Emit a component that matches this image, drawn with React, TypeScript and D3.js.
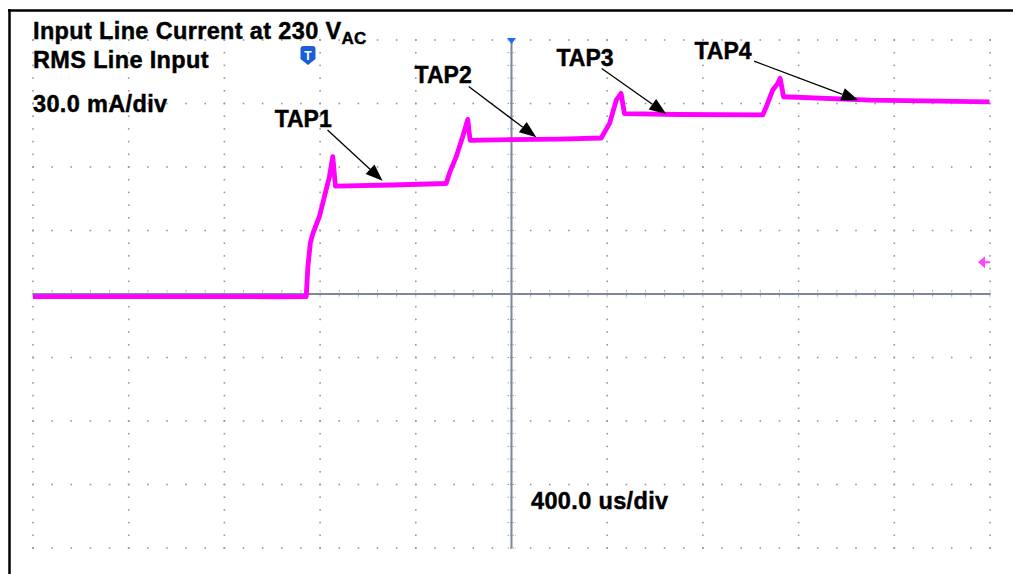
import React from "react";
import * as d3 from "d3";

// Scope settings
const timePerDivUs = 400;
const currentPerDivMa = 30;
const xDivs = 10;
const yDivs = 8;
const minorPerDiv = 5;

// Trace samples (time in µs relative to trigger, current in mA)
const timeUs = [
  -2000, -1500, -1000, -858, -851, -841, -830, -803, -782, -761, -747, -736,
  -500, -273, -259, -231, -204, -183, -173, 0, 200, 375, 410, 438, 458, 472,
  700, 1050, 1065, 1092, 1113, 1123, 1137, 1500, 1998,
];
const currentMa = [
  -1.2, -1.2, -1.3, -1.2, 12.9, 24.0, 28.7, 36.5, 46.0, 55.4, 64.9, 51.0,
  51.5, 52.2, 57.2, 64.9, 74.3, 82.5, 72.6, 72.9, 73.2, 73.7, 80.6, 91.6, 94.8, 85.2,
  84.8, 84.6, 88.5, 96.4, 99.5, 101.9, 93.2, 91.6, 90.8,
];

// Annotations: label position and arrow target in data units
const tapLabels = ["TAP1", "TAP2", "TAP3", "TAP4"];
const tapLabelT = [-990, -405, 188, 765];
const tapLabelMa = [79, 99.5, 107.5, 110.8];
const tapTailT = [-769, -179, 377, 1014];
const tapTailMa = [77.5, 98, 106.5, 110];
const tapTipT = [-539, 104, 647, 1450];
const tapTipMa = [53.5, 74, 85, 91.5];

const titleMain = "Input Line Current at 230 V";
const titleSub = "AC";
const subtitle = "RMS Line Input";
const vScaleLabel = "30.0 mA/div";
const hScaleLabel = "400.0 us/div";
const refLevelMa = 15;

export default function App() {
  const left = 33;
  const right = 990;
  const top = 40;
  const bottom = 548;
  const tMax = (xDivs / 2) * timePerDivUs;
  const iMax = (yDivs / 2) * currentPerDivMa;
  const x = d3.scaleLinear().domain([-tMax, tMax]).range([left, right]);
  const y = d3.scaleLinear().domain([-iMax, iMax]).range([bottom, top]);

  const majorX = d3.range(-tMax, tMax + 1, timePerDivUs);
  const majorY = d3.range(-iMax, iMax + 0.001, currentPerDivMa);
  const minorX = d3.range(-tMax, tMax + 1, timePerDivUs / minorPerDiv);
  const minorY = d3.range(-iMax, iMax + 0.001, currentPerDivMa / minorPerDiv);

  const dots: { cx: number; cy: number }[] = [];
  majorX.forEach((t) => {
    if (Math.abs(t) < 1e-6) return;
    minorY.forEach((v) => dots.push({ cx: x(t), cy: y(v) }));
  });
  majorY.forEach((v) => {
    if (Math.abs(v) < 1e-6) return;
    minorX.forEach((t) => dots.push({ cx: x(t), cy: y(v) }));
  });

  const pts = timeUs.map((t, i) => [t, currentMa[i]] as [number, number]);
  const line = d3
    .line<[number, number]>()
    .x((d) => x(d[0]))
    .y((d) => y(d[1]));

  const gridColor = "#8f98aa";
  const axisColor = "#7d889c";
  const trace = "#ff00ff";
  const font = "'Liberation Sans', Arial, Helvetica, sans-serif";

  const cx0 = x(0);
  const cy0 = y(0);

  return (
    <svg
      width={1013}
      height={574}
      style={{ position: "absolute", left: 0, top: 0, background: "#fff" }}
      fontFamily={font}
    >
      <rect x={0} y={0} width={1013} height={574} fill="#fff" />
      {/* frame */}
      <line x1={8} x2={1013} y1={10.5} y2={10.5} stroke="#000" strokeWidth={2.5} />
      <line x1={9.5} x2={9.5} y1={9} y2={574} stroke="#000" strokeWidth={2.5} />

      {/* dotted graticule */}
      <g fill={gridColor}>
        {dots.map((d, i) => (
          <rect key={i} x={d.cx - 0.8} y={d.cy - 0.8} width={1.6} height={1.6} />
        ))}
      </g>

      {/* center axes with ticks */}
      <g stroke="#9aa3b4" strokeWidth={1}>
        {minorX.map((t, i) =>
          Math.abs(t) < 1e-6 ? null : (
            <line key={"tx" + i} x1={x(t)} x2={x(t)} y1={cy0 - 4} y2={cy0 + 4} strokeDasharray="1.5,1" />
          )
        )}
        {minorY.map((v, i) =>
          Math.abs(v) < 1e-6 ? null : (
            <line key={"ty" + i} x1={cx0 - 4} x2={cx0 + 4} y1={y(v)} y2={y(v)} strokeDasharray="1.5,1" />
          )
        )}
      </g>
      <line x1={left} x2={right} y1={cy0} y2={cy0} stroke={axisColor} strokeWidth={2} />
      <line x1={cx0} x2={cx0} y1={top} y2={bottom} stroke={axisColor} strokeWidth={2} />

      {/* trigger position marker */}
      <path
        d={`M${cx0 - 4.5},${top - 2} L${cx0 + 4.5},${top - 2} L${cx0},${top + 4} Z`}
        fill="#1a6cff"
      />

      {/* trace */}
      <path
        d={line(pts) || ""}
        fill="none"
        stroke={trace}
        strokeWidth={4.8}
        strokeLinejoin="round"
      />

      {/* channel reference marker */}
      <g fill="#ff44ff">
        <path
          d={`M${right - 12},${y(refLevelMa)} L${right - 5},${y(refLevelMa) - 6} L${right - 5},${y(refLevelMa) + 6} Z`}
        />
        <rect x={right - 6} y={y(refLevelMa) - 1} width={6} height={2} />
      </g>

      {/* trigger T badge */}
      <g transform="translate(300.5,46)">
        <path d="M0,3 Q0,0 3,0 L12,0 Q15,0 15,3 L15,13 L7.5,19 L0,13 Z" fill="#1a5fd8" />
        <text x={7.5} y={13.5} textAnchor="middle" fontSize={12} fontWeight="bold" fill="#fff">
          T
        </text>
      </g>

      {/* text labels */}
      <g fontWeight="bold" fill="#000" stroke="#000" strokeWidth={0.45} fontSize={23.5} letterSpacing={0.35}>
        <text x={33} y={39}>
          {titleMain}
          <tspan fontSize={17} dy={5}>
            {titleSub}
          </tspan>
        </text>
        <text x={33} y={68}>{subtitle}</text>
        <text x={33} y={112}>{vScaleLabel}</text>
        <text x={531} y={509}>{hScaleLabel}</text>
      </g>

      {/* TAP annotations */}
      {tapLabels.map((lab, i) => {
        const x1 = x(tapTailT[i]);
        const y1 = y(tapTailMa[i]);
        const x2 = x(tapTipT[i]);
        const y2 = y(tapTipMa[i]);
        const ang = Math.atan2(y2 - y1, x2 - x1);
        const len = 17;
        const half = 6.5;
        const bx = x2 - len * Math.cos(ang);
        const by = y2 - len * Math.sin(ang);
        const px = -Math.sin(ang) * half;
        const py = Math.cos(ang) * half;
        return (
          <g key={lab}>
            <line x1={x1} y1={y1} x2={bx} y2={by} stroke="#000" strokeWidth={1.3} />
            <path d={`M${x2},${y2} L${bx + px},${by + py} L${bx - px},${by - py} Z`} fill="#000" />
            <text
              x={x(tapLabelT[i])}
              y={y(tapLabelMa[i])}
              fontSize={23}
              fontWeight="bold"
              stroke="#000"
              strokeWidth={0.45}
            >
              {lab}
            </text>
          </g>
        );
      })}
    </svg>
  );
}
